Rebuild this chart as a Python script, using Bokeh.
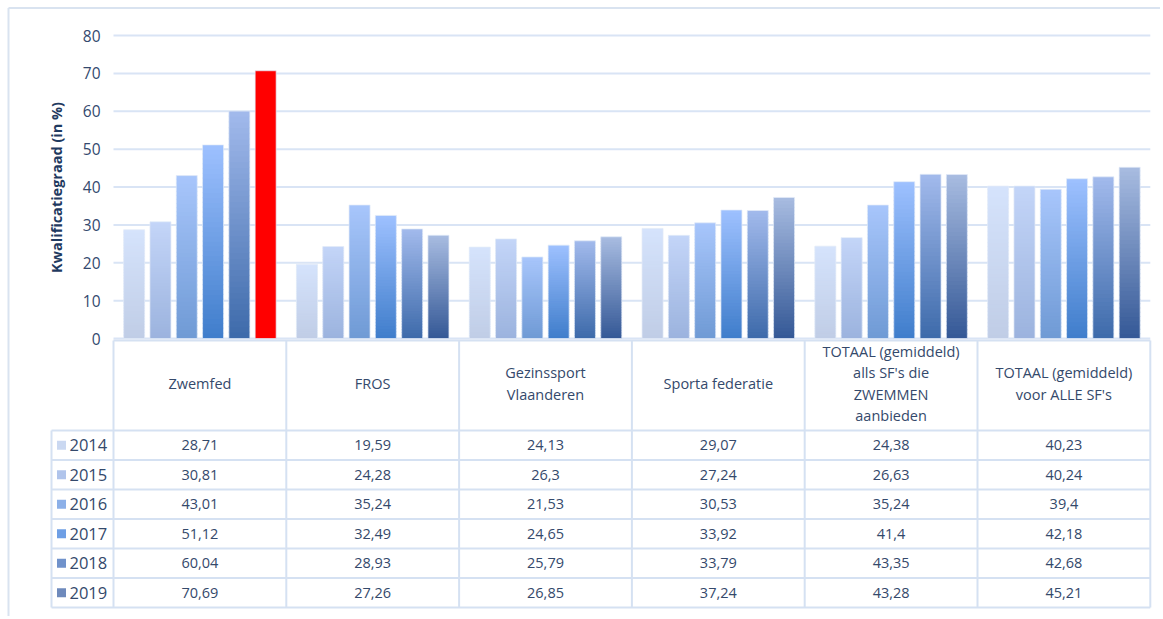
import numpy as np
from bokeh.plotting import figure
from bokeh.models import Range1d
from bokeh.core.properties import value
from bokeh.embed import file_html
from bokeh.resources import INLINE

# ---------------- data ----------------
categories = ["Zwemfed", "FROS", "Gezinssport\nVlaanderen", "Sporta federatie",
              "TOTAAL (gemiddeld)\nalls SF's die\nZWEMMEN\naanbieden",
              "TOTAAL (gemiddeld)\nvoor ALLE SF's"]
years = ["2014", "2015", "2016", "2017", "2018", "2019"]
v2014 = [28.71, 19.59, 24.13, 29.07, 24.38, 40.23]
v2015 = [30.81, 24.28, 26.3, 27.24, 26.63, 40.24]
v2016 = [43.01, 35.24, 21.53, 30.53, 35.24, 39.4]
v2017 = [51.12, 32.49, 24.65, 33.92, 41.4, 42.18]
v2018 = [60.04, 28.93, 25.79, 33.79, 43.35, 42.68]
v2019 = [70.69, 27.26, 26.85, 37.24, 43.28, 45.21]
labels2014 = ["28,71", "19,59", "24,13", "29,07", "24,38", "40,23"]
labels2015 = ["30,81", "24,28", "26,3", "27,24", "26,63", "40,24"]
labels2016 = ["43,01", "35,24", "21,53", "30,53", "35,24", "39,4"]
labels2017 = ["51,12", "32,49", "24,65", "33,92", "41,4", "42,18"]
labels2018 = ["60,04", "28,93", "25,79", "33,79", "43,35", "42,68"]
labels2019 = ["70,69", "27,26", "26,85", "37,24", "43,28", "45,21"]
y_ticks = [0, 10, 20, 30, 40, 50, 60, 70, 80]
y_title = "Kwalificatiegraad (in %)"
highlight = (0, 5)  # Zwemfed 2019 in red

series = [v2014, v2015, v2016, v2017, v2018, v2019]
labels = [labels2014, labels2015, labels2016, labels2017, labels2018, labels2019]

# ---------------- styling ----------------
top_cols = [(213, 227, 252), (195, 213, 248), (168, 198, 251), (158, 193, 255), (162, 186, 236), (168, 188, 225)]
bot_cols = [(192, 205, 230), (156, 179, 222), (111, 154, 213), (63, 125, 203), (61, 106, 170), (52, 88, 150)]
RED = "#FF0000"
GRID = "#D9E4F5"
TABLE = "#D5E1F2"
TXT = "#34496B"
TICK = "#34496E"
TITLE = "#1F3A60"
FONT = "Open Sans"

W, H = 1160, 616
CW = 172.8
X0 = 113.0
Y0 = 338.0
SY = 303.0 / 80.0


def px(X):
    return (X - X0) / CW


def py(Y):
    return (Y0 - Y) / SY


def hexc(c):
    return "#%02x%02x%02x" % tuple(int(round(v)) for v in c)


p = figure(width=W, height=H, output_backend="svg", toolbar_location=None,
           x_range=Range1d(px(0), px(W)), y_range=Range1d(py(H), py(0)),
           min_border=0, min_border_left=0, min_border_right=0, min_border_top=0, min_border_bottom=0)
p.axis.visible = False
p.grid.visible = False
p.outline_line_color = None
p.background_fill_color = "white"
p.border_fill_color = "white"

ncat = len(categories)
nser = len(years)

# outer border (top and left visible in the crop)
p.segment(x0=[px(8), px(8)], y0=[py(7.5), py(7.5)], x1=[px(W), px(8)], y1=[py(7.5), py(H)],
          line_color="#D9E3F0", line_width=2)

# gridlines
p.segment(x0=[0] * len(y_ticks), x1=[ncat] * len(y_ticks), y0=y_ticks, y1=y_ticks,
          line_color=GRID, line_width=2)

# tick labels
p.text(x=[px(100)] * len(y_ticks), y=y_ticks, text=[str(t) for t in y_ticks],
       text_align="right", text_baseline="middle", text_font=value(FONT),
       text_font_size="15.5px", text_color=TICK)

# y title
p.text(x=[px(56)], y=[py(187)], text=[y_title], angle=np.pi / 2, text_align="center",
       text_baseline="middle", text_font=value(FONT), text_font_size="14.5px",
       text_font_style="bold", text_color=TITLE)

# bars with vertical gradient
slot = 26.3 / CW
bw = 21.0 / CW
first = 0.5 - 2.5 * slot
NSEG = 40
ovl = 1.2 / SY
qx0, qx1, qb, qt, qc = [], [], [], [], []
ox, oy = [], []
for j in range(nser):
    for i in range(ncat):
        v = series[j][i]
        xc = i + first + j * slot
        ox.append(xc); oy.append(v)
        if (i, j) == highlight:
            qx0.append(xc - bw / 2); qx1.append(xc + bw / 2); qb.append(0); qt.append(v); qc.append(RED)
            continue
        edges = np.linspace(0, v, NSEG + 1)
        for k in range(NSEG):
            f = (k + 0.5) / NSEG
            col = [bot_cols[j][c] + (top_cols[j][c] - bot_cols[j][c]) * f for c in range(3)]
            qx0.append(xc - bw / 2); qx1.append(xc + bw / 2)
            qb.append(edges[k]); qt.append(min(edges[k + 1] + ovl, v)); qc.append(hexc(col))
p.quad(left=qx0, right=qx1, bottom=qb, top=qt, fill_color=qc, line_color=None)
p.vbar(x=ox, top=oy, bottom=0, width=bw, fill_color=None, line_color="#E3EBF8", line_width=1, line_alpha=0.7)

# ---------------- data table ----------------
hdr_top = py(340)
hdr_bot = py(430)
row_edges_Y = [430, 459.5, 489, 518.5, 548, 577.5, 607]
row_edges = [py(Y) for Y in row_edges_Y]
left_tab = px(51)

hx0 = [0] + [left_tab] * len(row_edges)
hx1 = [ncat] * (len(row_edges) + 1)
hy = [hdr_top] + row_edges
p.segment(x0=hx0, x1=hx1, y0=hy, y1=hy, line_color=TABLE, line_width=2)
vx = list(range(ncat + 1)) + [left_tab]
vy0 = [hdr_top] * (ncat + 1) + [row_edges[0]]
vy1 = [row_edges[-1]] * (ncat + 2)
p.segment(x0=vx, x1=vx, y0=vy0, y1=vy1, line_color=TABLE, line_width=2)

# header labels
p.text(x=[i + 0.5 for i in range(ncat)], y=[py(383)] * ncat, text=categories,
       text_align="center", text_baseline="middle", text_font=value(FONT), text_font_size="14.5px",
       text_color=TXT, text_line_height=1.13)

# cell values
cx, cy, ct = [], [], []
for j in range(nser):
    yc = (row_edges[j] + row_edges[j + 1]) / 2
    for i in range(ncat):
        cx.append(i + 0.5); cy.append(yc); ct.append(labels[j][i])
p.text(x=cx, y=cy, text=ct, text_align="center", text_baseline="middle", text_font=value(FONT),
       text_font_size="14.5px", text_color=TXT)

# legend keys and year labels
ky = [(row_edges[j] + row_edges[j + 1]) / 2 for j in range(nser)]
kcol = [hexc([(top_cols[j][c] + bot_cols[j][c]) / 2 for c in range(3)]) for j in range(nser)]
p.rect(x=[px(61)] * nser, y=ky, width=9 / CW, height=9 / SY, fill_color=kcol, line_color=None)
p.text(x=[px(69)] * nser, y=ky, text=years, text_align="left", text_baseline="middle",
       text_font=value(FONT), text_font_size="16.5px", text_color=TXT)

open("out.html", "w").write(file_html(p, INLINE))
